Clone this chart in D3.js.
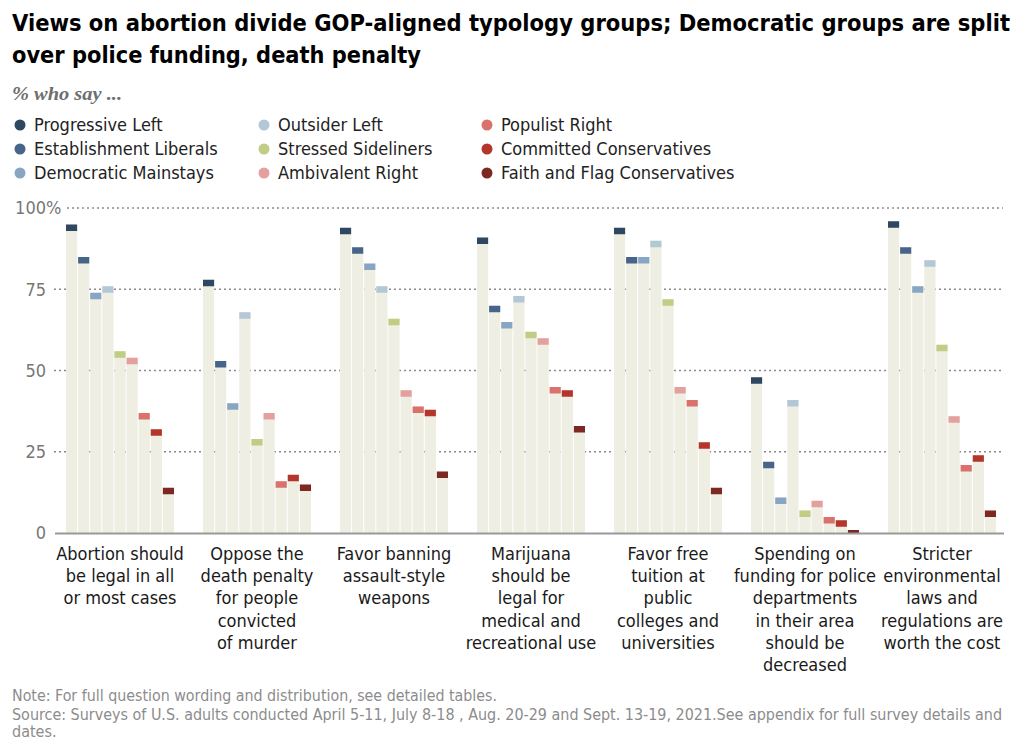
<!DOCTYPE html>
<html>
<head>
<meta charset="utf-8">
<script src="https://cdn.jsdelivr.net/npm/d3@7"></script>
<style>
  body { margin: 0; background: #fff; }
  svg text { font-family: "Liberation Sans Narrow", "DejaVu Sans Condensed", "DejaVu Sans", sans-serif; }
</style>
</head>
<body>
<svg width="1024" height="754"></svg>
<script>
// Chart data
const categories = [
  ["Abortion should", "be legal in all", "or most cases"],
  ["Oppose the", "death penalty", "for people", "convicted", "of murder"],
  ["Favor banning", "assault-style", "weapons"],
  ["Marijuana", "should be", "legal for", "medical and", "recreational use"],
  ["Favor free", "tuition at", "public", "colleges and", "universities"],
  ["Spending on", "funding for police", "departments", "in their area", "should be", "decreased"],
  ["Stricter", "environmental", "laws and", "regulations are", "worth the cost"]
];

const seriesNames = [
  "Progressive Left", "Establishment Liberals", "Democratic Mainstays",
  "Outsider Left", "Stressed Sideliners", "Ambivalent Right",
  "Populist Right", "Committed Conservatives", "Faith and Flag Conservatives"
];
const seriesColors = [
  "#2f4862", "#47658a", "#88a6c3",
  "#b3c7d7", "#c1cd84", "#e4a09f",
  "#da716c", "#b4352b", "#7d2820"
];

// % values per group, one array per typology group (same order as categories)
const progressiveLeft        = [94, 77, 93, 90, 93, 47, 95];
const establishmentLiberals  = [84, 52, 87, 69, 84, 21, 87];
const democraticMainstays    = [73, 39, 82, 64, 84, 10, 75];
const outsiderLeft           = [75, 67, 75, 72, 89, 40, 83];
const stressedSideliners     = [55, 28, 65, 61, 71, 6, 57];
const ambivalentRight        = [53, 36, 43, 59, 44, 9, 35];
const populistRight          = [36, 15, 38, 44, 40, 4, 20];
const committedConservatives = [31, 17, 37, 43, 27, 3, 23];
const faithFlag              = [13, 14, 18, 32, 13, 0, 6];

const yTicks = [0, 25, 50, 75, 100];

(function () {
  const svg = d3.select("svg");
  const seriesValues = [progressiveLeft, establishmentLiberals, democraticMainstays,
    outsiderLeft, stressedSideliners, ambivalentRight, populistRight,
    committedConservatives, faithFlag];

  // Title and subtitle (fitted to the width of the original lines)
  const title = svg.append("g")
    .style("font-size", "23px").style("font-weight", "bold").style("fill", "#000");
  title.append("text").attr("x", 12).attr("y", 31)
    .attr("textLength", 998).attr("lengthAdjust", "spacingAndGlyphs")
    .text("Views on abortion divide GOP-aligned typology groups; Democratic groups are split");
  title.append("text").attr("x", 12).attr("y", 63)
    .attr("textLength", 409).attr("lengthAdjust", "spacingAndGlyphs")
    .text("over police funding, death penalty");

  svg.append("text")
    .attr("x", 12).attr("y", 100)
    .attr("textLength", 110).attr("lengthAdjust", "spacingAndGlyphs")
    .style("font-family", "'Liberation Serif', 'DejaVu Serif', serif")
    .style("font-style", "italic").style("font-weight", "bold")
    .style("font-size", "18px").style("fill", "#6e6e6e")
    .text("% who say ...");

  // Legend: 3 columns of 3
  const legend = svg.append("g");
  const colX = [20, 264, 487];
  const rowY = [125, 149, 173];
  const item = legend.selectAll("g")
    .data(seriesNames)
    .enter()
    .append("g")
    .attr("transform", (d, i) => `translate(${colX[Math.floor(i / 3)]},${rowY[i % 3]})`);
  item.append("circle").attr("r", 5.5).attr("fill", (d, i) => seriesColors[i]);
  item.append("text")
    .attr("x", 14).attr("dy", "0.36em")
    .style("font-size", "18px").style("fill", "#222")
    .text((d) => d);

  // Scales
  const y = d3.scaleLinear().domain([0, 100]).range([533, 208]);
  const x0 = d3.scaleBand()
    .domain(d3.range(categories.length))
    .range([66, 996])
    .paddingInner(0.2117)
    .paddingOuter(0);
  const x1 = d3.scaleBand()
    .domain(d3.range(seriesNames.length))
    .range([0, x0.bandwidth()])
    .paddingInner(0.08)
    .paddingOuter(0);

  // Marks stay above the baseline
  svg.append("defs").append("clipPath").attr("id", "plotClip")
    .append("rect").attr("x", 0).attr("y", 0).attr("width", 1024).attr("height", y(0));

  // Gridlines
  svg.append("g")
    .selectAll("line")
    .data(yTicks.filter((d) => d > 0))
    .enter()
    .append("line")
    .attr("x1", (d) => (d === 100 ? 67 : 54))
    .attr("x2", 1003)
    .attr("y1", (d) => y(d))
    .attr("y2", (d) => y(d))
    .style("stroke", "#8a8a8a")
    .style("stroke-width", 1.4)
    .style("stroke-dasharray", "2,3");

  // Tick labels
  const tickG = svg.append("g");
  tickG.selectAll("text")
    .data(yTicks)
    .enter()
    .append("text")
    .attr("x", 46)
    .attr("y", (d) => y(d))
    .attr("dy", "0.36em")
    .attr("text-anchor", "end")
    .style("font-size", "18px").style("fill", "#777")
    .text((d) => d);
  tickG.append("text")
    .attr("x", 46).attr("y", y(100)).attr("dy", "0.36em")
    .style("font-size", "18px").style("fill", "#777")
    .text("%");

  // Bars
  const groups = svg.append("g")
    .selectAll("g")
    .data(categories)
    .enter()
    .append("g")
    .attr("transform", (d, i) => `translate(${x0(i)},0)`);

  groups.each(function (cat, ci) {
    const g = d3.select(this);
    const vals = seriesValues.map((s) => s[ci]);
    const marks = g.append("g").attr("clip-path", "url(#plotClip)");
    marks.selectAll("rect.bar")
      .data(vals)
      .enter()
      .append("rect")
      .attr("class", "bar")
      .attr("x", (d, i) => x1(i))
      .attr("width", x1.bandwidth())
      .attr("y", (d) => y(d) - 3)
      .attr("height", (d) => Math.max(0, y(0) - y(d) + 3))
      .style("fill", "#eeeee3");
    marks.selectAll("rect.cap")
      .data(vals)
      .enter()
      .append("rect")
      .attr("class", "cap")
      .attr("x", (d, i) => x1(i))
      .attr("width", x1.bandwidth())
      .attr("y", (d) => y(d) - 3)
      .attr("height", 6.5)
      .style("fill", (d, i) => seriesColors[i]);

    // category label
    const t = g.append("text")
      .attr("text-anchor", "middle")
      .style("font-size", "18px").style("fill", "#1a1a1a");
    cat.forEach((line, li) => {
      t.append("tspan")
        .attr("x", x0.bandwidth() / 2)
        .attr("y", 560 + li * 22.2)
        .text(line);
    });
  });

  // Baseline
  svg.append("line")
    .attr("x1", 55).attr("x2", 1004)
    .attr("y1", y(0) + 0.5).attr("y2", y(0) + 0.5)
    .style("stroke", "#999").style("stroke-width", 2);

  // Footer
  const foot = svg.append("g").style("font-size", "16px").style("fill", "#8c8c8c");
  foot.append("text").attr("x", 12).attr("y", 701)
    .attr("textLength", 485).attr("lengthAdjust", "spacingAndGlyphs")
    .text("Note: For full question wording and distribution, see detailed tables.");
  foot.append("text").attr("x", 12).attr("y", 720)
    .attr("textLength", 990).attr("lengthAdjust", "spacingAndGlyphs")
    .text("Source: Surveys of U.S. adults conducted April 5-11, July 8-18 , Aug. 20-29 and Sept. 13-19, 2021.See appendix for full survey details and");
  foot.append("text").attr("x", 12).attr("y", 737)
    .text("dates.");
})();
</script>
</body>
</html>
